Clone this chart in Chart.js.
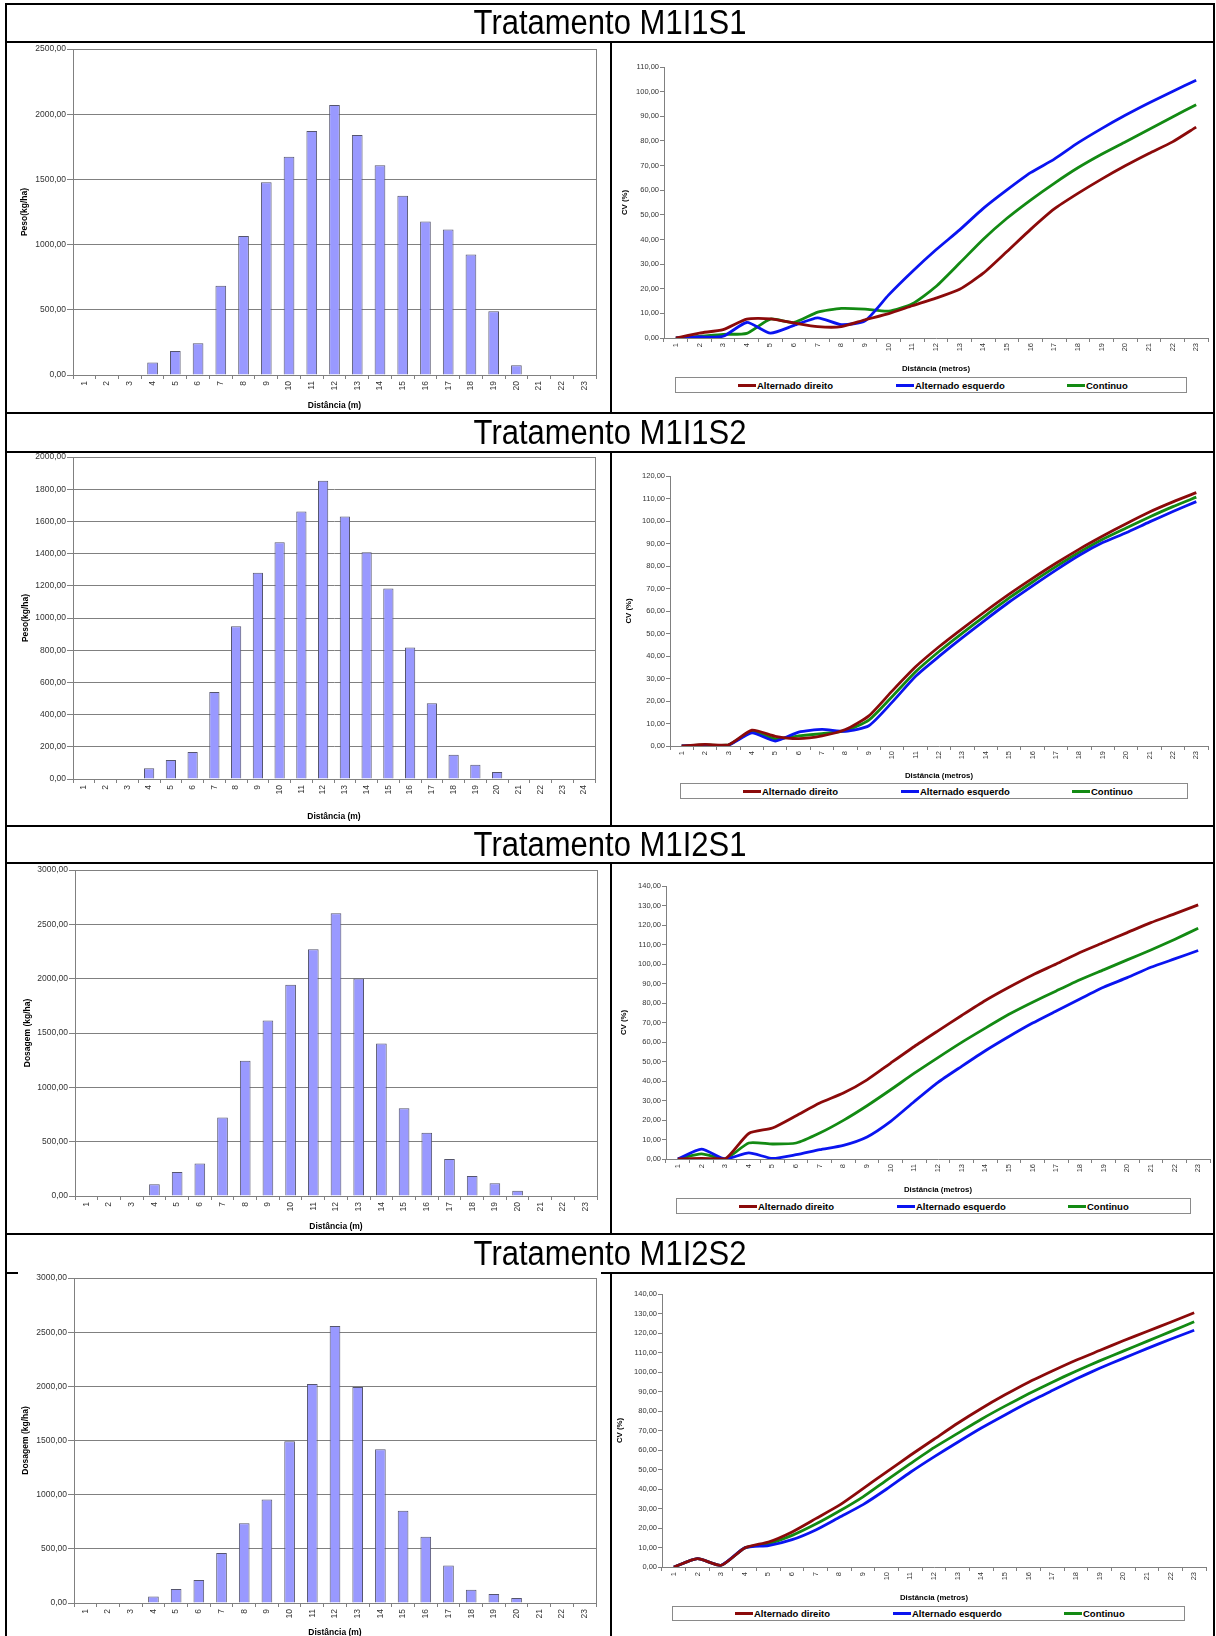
<!DOCTYPE html>
<html>
<head>
<meta charset="utf-8">
<script src="https://cdn.jsdelivr.net/npm/chart.js@4.4.1/dist/chart.umd.min.js"></script>
<style>
  html, body { margin: 0; padding: 0; background: #fff; width: 1216px; height: 1636px; overflow: hidden; }
  #page { position: relative; width: 1216px; height: 1636px; font-family: "Liberation Sans", Arial, sans-serif; }
  .ln { position: absolute; background: #000; z-index: 3; }
  .ttl { position: absolute; left: 6px; width: 1208px; text-align: center; font-size: 31px; color: #000; z-index: 2; }
  .ttl span { display: inline-block; transform: scaleY(1.12); }
  canvas { position: absolute; z-index: 1; }
  .leg { position: absolute; border: 1px solid #8a8a8a; box-sizing: border-box; background: #fff; z-index: 2; }
  .leg .it { position: absolute; top: 0; bottom: 0; display: flex; align-items: center; font-weight: bold; font-size: 9.5px; white-space: nowrap; color: #000; }
  .leg .sw { display: inline-block; width: 18px; height: 3px; margin-right: 1px; }
</style>
</head>
<body>
<div id="page"></div>
<script>
// ---- data ----
const titles = ["Tratamento M1I1S1", "Tratamento M1I1S2", "Tratamento M1I2S1", "Tratamento M1I2S2"];

const dist23 = ["1","2","3","4","5","6","7","8","9","10","11","12","13","14","15","16","17","18","19","20","21","22","23"];
const dist24 = ["1","2","3","4","5","6","7","8","9","10","11","12","13","14","15","16","17","18","19","20","21","22","23","24"];

const pesoM1I1S1    = [0, 0, 0, 95, 184, 243, 685, 1066, 1478, 1674, 1871, 2071, 1841, 1608, 1375, 1178, 1115, 925, 488, 74, 0, 0, 0];
const pesoM1I1S2    = [0, 0, 0, 66, 118, 167, 541, 948, 1281, 1471, 1661, 1853, 1630, 1409, 1184, 816, 471, 151, 89, 43, 0, 0, 0, 0];
const dosagemM1I2S1 = [0, 0, 0, 107, 221, 298, 722, 1244, 1616, 1944, 2270, 2601, 2002, 1403, 807, 583, 341, 184, 117, 49, 0, 0, 0];
const dosagemM1I2S2 = [0, 0, 0, 61, 129, 212, 461, 737, 955, 1492, 2021, 2558, 1993, 1419, 851, 611, 347, 123, 83, 46, 0, 0, 0];

const barYTitles = ["Peso(kg/ha)", "Peso(kg/ha)", "Dosagem (kg/ha)", "Dosagem (kg/ha)"];
const barYMax  = [2500, 2000, 3000, 3000];
const barYStep = [500, 200, 500, 500];

const seriesNames  = ["Alternado direito", "Alternado esquerdo", "Continuo"];
const seriesColors = ["#8b0a0a", "#0a14f0", "#138a13"];

const cvM1I1S1Direito   = [0, 2.0, 3.4, 7.7, 7.8, 6.1, 4.6, 4.6, 7.4, 9.9, 13.1, 16.2, 19.8, 26.3, 35.1, 44.1, 52.4, 58.7, 64.5, 69.9, 74.9, 79.6, 85.6];
const cvM1I1S1Esquerdo  = [0, 0.4, 0.7, 6.3, 2.0, 5.1, 8.2, 5.4, 7.0, 17.5, 27.0, 35.8, 43.9, 52.6, 60.1, 67.1, 72.6, 79.2, 85.0, 90.4, 95.4, 100.1, 104.6];
const cvM1I1S1Continuo  = [0, 0.7, 1.5, 1.9, 7.7, 6.3, 10.5, 12.0, 11.7, 10.9, 13.9, 20.9, 30.4, 40.1, 48.6, 56.0, 62.8, 69.1, 74.6, 79.6, 84.6, 89.7, 94.7];

const cvM1I1S2Direito   = [0, 0.7, 0.5, 7.0, 4.3, 3.3, 4.5, 7.3, 13.4, 24.5, 35.2, 44.1, 52.2, 60.0, 67.5, 74.5, 81.2, 87.5, 93.3, 98.8, 104.0, 108.5, 112.6];
const cvM1I1S2Esquerdo  = [0, 0.3, 0.4, 5.8, 2.2, 6.2, 7.4, 6.5, 9.0, 19.5, 31.0, 39.8, 48.2, 56.2, 64.0, 71.2, 78.2, 84.8, 90.4, 94.8, 99.6, 104.2, 108.6];
const cvM1I1S2Continuo  = [0, 0.5, 0.5, 6.5, 3.2, 4.5, 5.5, 6.8, 11.5, 22.0, 33.0, 42.0, 50.2, 58.1, 65.8, 72.9, 79.7, 86.1, 91.9, 96.9, 101.8, 106.4, 110.6];

const cvM1I2S1Direito   = [0, 0.3, 0, 13.1, 15.9, 22.2, 28.7, 33.8, 40.6, 49.2, 57.7, 65.7, 73.6, 81.3, 88.1, 94.4, 100.0, 105.9, 111.0, 116.1, 121.2, 125.7, 130.3];
const cvM1I2S1Esquerdo  = [0, 5.1, 0, 3.1, 0.3, 2.2, 4.8, 7.0, 11.3, 19.3, 29.5, 39.3, 47.5, 55.5, 62.8, 69.7, 75.9, 82.1, 88.1, 93.0, 98.3, 102.6, 106.9];
const cvM1I2S1Continuo  = [0, 2.6, 0, 8.2, 7.7, 8.2, 13.3, 19.8, 27.3, 35.5, 44.0, 52.0, 59.8, 67.1, 74.2, 80.4, 86.2, 91.9, 97.0, 102.1, 107.2, 112.6, 118.3];

const cvM1I2S2Direito   = [0, 4.3, 0.9, 9.8, 12.8, 18.0, 24.8, 31.7, 40.2, 48.8, 57.3, 65.5, 73.7, 81.3, 88.3, 94.8, 100.5, 106.0, 111.0, 116.0, 120.8, 125.5, 130.4];
const cvM1I2S2Esquerdo  = [0, 4.3, 0.9, 9.8, 11.0, 14.0, 19.0, 25.5, 32.0, 40.0, 48.6, 56.5, 64.0, 71.3, 78.0, 84.5, 90.5, 96.4, 101.9, 107.0, 112.0, 116.8, 121.4];
const cvM1I2S2Continuo  = [0, 4.3, 0.9, 9.8, 12.0, 16.2, 22.0, 28.7, 36.0, 44.6, 53.0, 61.2, 68.5, 75.8, 82.5, 88.8, 94.8, 100.4, 105.7, 110.7, 115.7, 120.7, 125.8];

const cvYMax = [110, 120, 140, 140];

// ---- page layout (pixels) ----
const titleRows = [[4, 38], [413, 39], [826, 37], [1234, 39]];
const hLines = [[5,1215,3],[5,1215,41],[5,1215,412],[5,1215,451],[5,1215,825],[5,1215,862],[5,1215,1233],[5,18,1272],[601,1215,1272]];
const vLines = [[5,3,1636],[1213,3,1636],[610,41,414],[610,451,827],[610,862,1235],[610,1272,1636]];

const barPanels = [
  { box: {x: 8, y: 38,   w: 602, h: 374}, plot: {l: 73, t: 49,   r: 596, b: 375},  yTitleX: 25, xTitleY: 406 },
  { box: {x: 8, y: 446,  w: 602, h: 379}, plot: {l: 73, t: 457,  r: 595, b: 779},  yTitleX: 26, xTitleY: 817 },
  { box: {x: 8, y: 858,  w: 602, h: 375}, plot: {l: 75, t: 870,  r: 597, b: 1196}, yTitleX: 28, xTitleY: 1227 },
  { box: {x: 8, y: 1266, w: 602, h: 380}, plot: {l: 74, t: 1278, r: 596, b: 1603}, yTitleX: 26, xTitleY: 1633 }
];
const linePanels = [
  { box: {x: 613, y: 44,   w: 600, h: 368}, plot: {l: 664, t: 67,   r: 1208, b: 338},  yTitleX: 625, xTitleY: 369,  legend: {x: 675, y: 377,  w: 512, h: 16} },
  { box: {x: 613, y: 454,  w: 600, h: 371}, plot: {l: 670, t: 476,  r: 1208, b: 746},  yTitleX: 629, xTitleY: 776,  legend: {x: 680, y: 783,  w: 508, h: 16} },
  { box: {x: 613, y: 865,  w: 600, h: 368}, plot: {l: 666, t: 886,  r: 1210, b: 1159}, yTitleX: 624, xTitleY: 1190, legend: {x: 676, y: 1198, w: 515, h: 16} },
  { box: {x: 613, y: 1275, w: 600, h: 361}, plot: {l: 662, t: 1294, r: 1206, b: 1567}, yTitleX: 620, xTitleY: 1598, legend: {x: 672, y: 1606, w: 513, h: 15} }
];
const legendOffsets = [62, 220, 391];

const barSeries = [pesoM1I1S1, pesoM1I1S2, dosagemM1I2S1, dosagemM1I2S2];
const barLabels = [dist23, dist24, dist23, dist23];
const cvSeries = [
  [cvM1I1S1Direito, cvM1I1S1Esquerdo, cvM1I1S1Continuo],
  [cvM1I1S2Direito, cvM1I1S2Esquerdo, cvM1I1S2Continuo],
  [cvM1I2S1Direito, cvM1I2S1Esquerdo, cvM1I2S1Continuo],
  [cvM1I2S2Direito, cvM1I2S2Esquerdo, cvM1I2S2Continuo]
];

Chart.defaults.font.family = '"Liberation Sans", Arial, sans-serif';
Chart.defaults.color = '#333';

const page = document.getElementById('page');
const fmt = (v) => Number(v).toFixed(2).replace('.', ',');
const AXIS = '#808080';

// gray frame round the bar plot area
const plotFrame = {
  id: 'plotFrame',
  beforeDatasetsDraw(chart) {
    const a = chart.chartArea, ctx = chart.ctx;
    ctx.save();
    ctx.strokeStyle = AXIS; ctx.lineWidth = 1;
    ctx.strokeRect(Math.round(a.left) + 0.5, Math.round(a.top) + 0.5, Math.round(a.right - a.left), Math.round(a.bottom - a.top));
    ctx.restore();
  }
};

function el(tag, cls, css) {
  const d = document.createElement(tag);
  if (cls) d.className = cls;
  Object.assign(d.style, css || {});
  page.appendChild(d);
  return d;
}

// fixed scale sizes so the plot area lands where the picture has it
function fitBox(p, titleSize) {
  const lh = titleSize * 1.2;
  const bottom = p.xTitleY - p.box.y + lh / 2;
  return {
    padding: { left: 0, top: p.plot.t - p.box.y, right: p.box.x + p.box.w - p.plot.r, bottom: p.box.h - bottom },
    yWidth: p.plot.l - p.box.x,
    xHeight: bottom - (p.plot.b - p.box.y),
    yTitlePad: p.yTitleX - p.box.x - lh / 2
  };
}

function makeCanvas(box) {
  const c = el('canvas', null, { left: box.x + 'px', top: box.y + 'px' });
  c.width = box.w; c.height = box.h;
  return c;
}

// table lines and titles
hLines.forEach(([x1, x2, y]) => el('div', 'ln', { left: x1 + 'px', top: y + 'px', width: (x2 - x1) + 'px', height: '2px' }));
vLines.forEach(([x, y1, y2]) => el('div', 'ln', { left: x + 'px', top: y1 + 'px', width: '2px', height: (y2 - y1) + 'px' }));
titleRows.forEach(([top, h], i) => {
  const t = el('div', 'ttl', { top: top + 'px', height: h + 'px', lineHeight: h + 'px' });
  t.innerHTML = '<span>' + titles[i] + '</span>';
});

// bar charts
barPanels.forEach((p, i) => {
  const f = fitBox(p, 8.5);
  new Chart(makeCanvas(p.box), {
    type: 'bar',
    data: {
      labels: barLabels[i],
      datasets: [{ label: barYTitles[i], data: barSeries[i], backgroundColor: '#9999ff', borderColor: '#55556e', borderWidth: 1, barPercentage: 0.47, categoryPercentage: 1 }]
    },
    options: {
      responsive: false, animation: false,
      layout: { padding: f.padding },
      plugins: { legend: { display: false }, tooltip: { enabled: false } },
      scales: {
        x: {
          offset: true,
          grid: { drawOnChartArea: false, color: AXIS, tickLength: 4, offset: true },
          border: { color: AXIS },
          ticks: { minRotation: 90, maxRotation: 90, autoSkip: false, padding: 2, font: { size: 8.5 } },
          title: { display: true, text: 'Distância (m)', color: '#000', font: { size: 8.5, weight: 'bold' }, padding: { top: 0, bottom: 0 } },
          afterFit: (s) => { s.height = f.xHeight; }
        },
        y: {
          min: 0, max: barYMax[i],
          ticks: { stepSize: barYStep[i], padding: 1, font: { size: 8.5 }, callback: fmt },
          grid: { color: AXIS, tickLength: 6 },
          border: { color: AXIS },
          title: { display: true, text: barYTitles[i], color: '#000', font: { size: 8.5, weight: 'bold' }, padding: { top: f.yTitlePad, bottom: 0 } },
          afterFit: (s) => { s.width = f.yWidth; }
        }
      }
    },
    plugins: [plotFrame]
  });
});

// line charts
linePanels.forEach((p, i) => {
  const f = fitBox(p, 7.8);
  new Chart(makeCanvas(p.box), {
    type: 'line',
    data: {
      labels: dist23,
      datasets: cvSeries[i].map((d, k) => ({
        label: seriesNames[k], data: d, borderColor: seriesColors[k], backgroundColor: seriesColors[k],
        borderWidth: 2.8, pointRadius: 0, tension: 0.2, fill: false, borderJoinStyle: 'round'
      }))
    },
    options: {
      responsive: false, animation: false,
      layout: { padding: f.padding },
      plugins: { legend: { display: false }, tooltip: { enabled: false } },
      scales: {
        x: {
          offset: true,
          grid: { drawOnChartArea: false, color: AXIS, tickLength: 4, offset: true },
          border: { color: AXIS },
          ticks: { minRotation: 90, maxRotation: 90, autoSkip: false, padding: 1, font: { size: 7.5 } },
          title: { display: true, text: 'Distância (metros)', color: '#000', font: { size: 7.8, weight: 'bold' }, padding: { top: 0, bottom: 0 } },
          afterFit: (s) => { s.height = f.xHeight; }
        },
        y: {
          min: 0, max: cvYMax[i],
          ticks: { stepSize: 10, padding: 1, font: { size: 7.5 }, callback: fmt },
          grid: { drawOnChartArea: false, color: AXIS, tickLength: 4 },
          border: { color: AXIS },
          title: { display: true, text: 'CV (%)', color: '#000', font: { size: 7.8, weight: 'bold' }, padding: { top: f.yTitlePad, bottom: 0 } },
          afterFit: (s) => { s.width = f.yWidth; }
        }
      }
    }
  });

  const L = p.legend;
  const box = el('div', 'leg', { left: L.x + 'px', top: L.y + 'px', width: L.w + 'px', height: L.h + 'px' });
  seriesNames.forEach((name, k) => {
    const it = document.createElement('div');
    it.className = 'it';
    it.style.left = legendOffsets[k] + 'px';
    it.innerHTML = '<span class="sw" style="background:' + seriesColors[k] + '"></span>' + name;
    box.appendChild(it);
  });
});
</script>
</body>
</html>
